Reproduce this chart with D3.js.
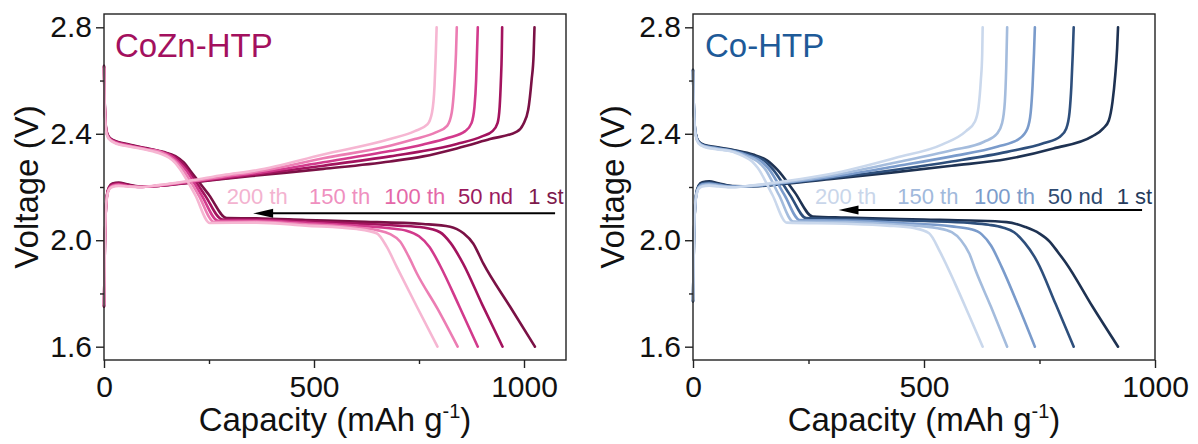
<!DOCTYPE html>
<html><head><meta charset="utf-8">
<script src="https://cdn.jsdelivr.net/npm/d3@7"></script>
<style>body{margin:0;background:#fff}svg{display:block}text{font-family:"Liberation Sans",Arial,sans-serif}</style>
</head><body><svg id="c" width="1198" height="444"></svg>
<script>
// ---------- DATA ----------
const cycleLabels = ["1 st", "50 nd", "100 th", "150 th", "200 th"];
const yMajorTicks = [1.6, 2.0, 2.4, 2.8];
const yMinorTicks = [1.8, 2.2, 2.6];
const xMajorTicks = [0, 500, 1000];
const xMinorTicks = [250, 750];

// CoZn-HTP discharge (capacity mAh/g, voltage V)
const coznDis1st = [[0,2.655],[1,2.56],[3,2.46],[6,2.41],[12,2.388],[25,2.374],[60,2.36],[100,2.346],[140,2.332],[170,2.316],[190,2.292],[205,2.262],[250,2.17],[292,2.083],[363,2.082],[480,2.076],[602,2.07],[760,2.061],[824,2.051],[856,2.026],[879,1.988],[903,1.913],[967,1.75],[1026,1.6]];
const coznDis50 = [[0,2.652],[1,2.56],[3,2.46],[6,2.408],[12,2.386],[25,2.372],[60,2.358],[100,2.345],[140,2.331],[168,2.314],[185,2.292],[200,2.263],[240,2.17],[282,2.078],[363,2.078],[480,2.071],[602,2.063],[700,2.055],[760,2.048],[800,2.03],[825,1.99],[855,1.912],[900,1.76],[949,1.6]];
const coznDis100 = [[0,2.65],[1,2.555],[3,2.455],[6,2.405],[12,2.384],[25,2.37],[60,2.356],[100,2.343],[140,2.33],[165,2.312],[180,2.29],[195,2.264],[232,2.17],[272,2.073],[363,2.074],[480,2.066],[602,2.055],[680,2.045],[720,2.036],[750,2.015],[775,1.975],[800,1.905],[845,1.755],[890,1.6]];
const coznDis150 = [[0,2.648],[1,2.55],[3,2.45],[6,2.403],[12,2.382],[25,2.368],[60,2.354],[100,2.342],[140,2.328],[160,2.31],[175,2.29],[188,2.265],[225,2.17],[262,2.069],[363,2.07],[480,2.06],[602,2.048],[650,2.038],[680,2.024],[705,1.995],[725,1.94],[745,1.875],[795,1.74],[842,1.6]];
const coznDis200 = [[0,2.645],[1,2.55],[3,2.45],[6,2.4],[12,2.38],[25,2.366],[60,2.352],[100,2.34],[135,2.325],[155,2.31],[170,2.29],[182,2.265],[217,2.17],[252,2.065],[363,2.066],[480,2.055],[602,2.042],[649,2.026],[673,1.976],[697,1.9],[745,1.75],[794,1.6]];

// CoZn-HTP charge
const coznChg1st = [[0,1.75],[1,1.86],[2,1.98],[4,2.1],[7,2.17],[12,2.2],[20,2.213],[35,2.217],[55,2.21],[85,2.202],[130,2.204],[205,2.216],[284,2.23],[363,2.243],[522,2.268],[681,2.296],[760,2.315],[840,2.345],[919,2.38],[983,2.408],[998,2.435],[1010,2.49],[1018,2.6],[1023,2.7],[1025,2.8]];
const coznChg50 = [[0,1.752],[1,1.86],[2,1.98],[4,2.1],[7,2.168],[12,2.198],[20,2.21],[35,2.214],[55,2.208],[85,2.201],[130,2.204],[205,2.217],[284,2.232],[363,2.247],[522,2.28],[681,2.315],[760,2.335],[840,2.362],[900,2.39],[925,2.41],[937,2.44],[942,2.5],[945,2.6],[947,2.7],[948,2.8]];
const coznChg100 = [[0,1.755],[1,1.86],[2,1.98],[4,2.1],[7,2.165],[12,2.195],[20,2.206],[35,2.21],[55,2.205],[85,2.2],[130,2.205],[205,2.219],[284,2.236],[363,2.252],[522,2.293],[681,2.335],[760,2.36],[820,2.385],[860,2.41],[875,2.44],[882,2.5],[886,2.6],[888,2.7],[890,2.8]];
const coznChg150 = [[0,1.757],[1,1.86],[2,1.98],[4,2.1],[7,2.162],[12,2.192],[20,2.203],[35,2.207],[55,2.203],[85,2.2],[130,2.206],[205,2.221],[284,2.24],[363,2.257],[522,2.308],[681,2.355],[740,2.38],[790,2.405],[817,2.43],[828,2.48],[834,2.58],[838,2.7],[840,2.8]];
const coznChg200 = [[0,1.76],[1,1.86],[2,1.98],[4,2.1],[7,2.16],[12,2.19],[20,2.2],[35,2.204],[55,2.202],[85,2.2],[130,2.207],[205,2.224],[284,2.245],[363,2.263],[522,2.322],[681,2.38],[740,2.41],[770,2.435],[781,2.48],[787,2.58],[790,2.7],[792,2.8]];

// Co-HTP discharge
const coDis1st = [[0,2.64],[1,2.55],[3,2.45],[6,2.4],[12,2.372],[25,2.358],[50,2.35],[90,2.338],[130,2.322],[160,2.3],[183,2.264],[220,2.18],[259,2.089],[330,2.085],[500,2.078],[600,2.074],[679,2.068],[719,2.05],[750,2.025],[772,1.995],[790,1.955],[808,1.913],[865,1.75],[920,1.6]];
const coDis50 = [[0,2.638],[1,2.55],[3,2.45],[6,2.398],[12,2.37],[25,2.356],[50,2.348],[90,2.336],[125,2.32],[155,2.298],[173,2.266],[210,2.17],[245,2.083],[330,2.08],[500,2.072],[600,2.065],[640,2.058],[670,2.048],[695,2.03],[718,1.99],[745,1.92],[785,1.76],[824,1.6]];
const coDis100 = [[0,2.636],[1,2.55],[3,2.45],[6,2.396],[12,2.368],[25,2.354],[50,2.346],[90,2.334],[120,2.318],[148,2.296],[164,2.268],[198,2.17],[231,2.076],[330,2.074],[450,2.065],[560,2.052],[600,2.042],[625,2.022],[645,1.98],[668,1.9],[705,1.75],[740,1.6]];
const coDis150 = [[0,2.634],[1,2.55],[3,2.45],[6,2.394],[12,2.366],[25,2.352],[50,2.344],[90,2.332],[115,2.316],[140,2.296],[155,2.27],[186,2.17],[217,2.07],[330,2.068],[450,2.058],[530,2.045],[560,2.03],[580,2.0],[598,1.95],[612,1.885],[645,1.75],[680,1.6]];
const coDis200 = [[0,2.632],[1,2.55],[3,2.45],[6,2.392],[12,2.364],[25,2.35],[50,2.342],[90,2.33],[110,2.315],[128,2.296],[140,2.272],[172,2.17],[203,2.066],[330,2.062],[420,2.055],[480,2.045],[511,2.026],[535,1.955],[567,1.838],[597,1.72],[627,1.6]];

// Co-HTP charge
const coChg1st = [[0,1.77],[1,1.88],[2,2.0],[4,2.11],[7,2.175],[12,2.205],[20,2.218],[35,2.221],[55,2.214],[85,2.204],[130,2.203],[200,2.212],[300,2.23],[439,2.256],[560,2.28],[680,2.305],[780,2.345],[864,2.39],[888,2.42],[900,2.45],[908,2.52],[914,2.62],[918,2.72],[920,2.8]];
const coChg50 = [[0,1.772],[1,1.88],[2,2.0],[4,2.11],[7,2.172],[12,2.202],[20,2.214],[35,2.217],[55,2.211],[85,2.203],[130,2.203],[200,2.214],[300,2.234],[439,2.265],[560,2.296],[680,2.332],[760,2.365],[795,2.39],[808,2.42],[815,2.48],[819,2.58],[822,2.7],[824,2.8]];
const coChg100 = [[0,1.774],[1,1.88],[2,2.0],[4,2.11],[7,2.17],[12,2.199],[20,2.21],[35,2.213],[55,2.208],[85,2.202],[130,2.204],[200,2.216],[300,2.238],[439,2.278],[560,2.315],[660,2.352],[705,2.38],[724,2.42],[731,2.48],[735,2.58],[738,2.7],[740,2.8]];
const coChg150 = [[0,1.776],[1,1.88],[2,2.0],[4,2.11],[7,2.168],[12,2.196],[20,2.206],[35,2.209],[55,2.205],[85,2.2],[130,2.205],[200,2.218],[300,2.243],[439,2.292],[560,2.338],[630,2.37],[658,2.4],[669,2.44],[675,2.52],[678,2.65],[680,2.8]];
const coChg200 = [[0,1.778],[1,1.88],[2,2.0],[4,2.11],[7,2.165],[12,2.193],[20,2.202],[35,2.205],[55,2.202],[85,2.199],[130,2.206],[200,2.222],[300,2.25],[439,2.31],[540,2.36],[591,2.41],[610,2.445],[618,2.5],[623,2.6],[626,2.7],[627,2.8]];

// ---------- STYLE ----------
const coznLine = ["#7a1145", "#a3135e", "#d23a8c", "#ec7db3", "#f6b6d2"];
const coznText = ["#7d1a4b", "#9a1a5e", "#e468a8", "#ef90bf", "#f3b3d0"];
const coLine = ["#1e3252", "#2e4f7c", "#7a9bcb", "#a4bcdd", "#cad8ec"];
const coText = ["#263b5c", "#2f4b72", "#7c9ccb", "#a1b9dc", "#c9d6ea"];

const svg = d3.select("#c");
const FONT = '"Liberation Sans", Arial, sans-serif';

function panel(cfg) {
  const x = d3.scaleLinear().domain(cfg.xDomain).range(cfg.xRange);
  const y = d3.scaleLinear().domain([1.55, 2.85]).range([360, 14]);
  const g = svg.append("g");

  // curves (darkest first, lightest on top)
  const line = d3.line().x(d => x(d[0])).y(d => y(d[1])).curve(d3.curveMonotoneX);
  for (let i = 0; i < 5; i++) {
    [cfg.dis[i], cfg.chg[i]].forEach(arr => {
      g.append("path").attr("d", line(arr)).attr("fill", "none")
        .attr("stroke", cfg.lineColors[i]).attr("stroke-width", 2.6)
        .attr("stroke-linejoin", "round").attr("stroke-linecap", "round");
    });
  }

  // frame
  g.append("rect").attr("x", x.range()[0]).attr("y", 14)
    .attr("width", x.range()[1] - x.range()[0]).attr("height", 346)
    .attr("fill", "none").attr("stroke", "#222").attr("stroke-width", 1.4);

  // y axis
  const ya = g.append("g").attr("transform", `translate(${x.range()[0]},0)`)
    .call(d3.axisLeft(y).tickValues(yMajorTicks).tickSize(8).tickPadding(4).tickFormat(d3.format(".1f")));
  const ym = g.append("g").attr("transform", `translate(${x.range()[0]},0)`)
    .call(d3.axisLeft(y).tickValues(yMinorTicks).tickSize(4).tickFormat(""));
  // x axis
  const xa = g.append("g").attr("transform", "translate(0,360)")
    .call(d3.axisBottom(x).tickValues(xMajorTicks).tickSize(8).tickPadding(8).tickFormat(d3.format("d")));
  const xm = g.append("g").attr("transform", "translate(0,360)")
    .call(d3.axisBottom(x).tickValues(xMinorTicks).tickSize(4).tickFormat(""));
  [ya, ym, xa, xm].forEach(a => {
    a.select(".domain").remove();
    a.selectAll("line").attr("stroke", "#222").attr("stroke-width", 1.4);
    a.selectAll("text").attr("font-size", 30).attr("font-family", FONT).attr("fill", "#111");
  });

  // panel title
  g.append("text").attr("x", cfg.titleX).attr("y", 57).attr("font-size", 33)
    .attr("fill", cfg.titleColor).text(cfg.title);

  // cycle labels
  cfg.labelCaps.forEach((c, i) => {
    g.append("text").attr("x", x(c)).attr("y", 204).attr("font-size", 22)
      .attr("fill", cfg.textColors[4 - i]).text(cycleLabels[4 - i]);
  });

  // arrow
  const ay = y(cfg.arrowV);
  const x0 = x(cfg.arrowFrom), x1 = x(cfg.arrowTo);
  g.append("line").attr("x1", x0).attr("x2", x1 + 12).attr("y1", ay).attr("y2", ay)
    .attr("stroke", "#000").attr("stroke-width", 2);
  g.append("path").attr("d", `M${x1},${ay} L${x1 + 20},${ay - 4.5} L${x1 + 20},${ay + 4.5} Z`).attr("fill", "#000");

  // axis titles
  g.append("text").attr("transform", `translate(${cfg.yTitleX},187) rotate(-90)`)
    .attr("text-anchor", "middle").attr("font-size", 33).attr("fill", "#111").text("Voltage (V)");
  const t = g.append("text").attr("x", (x.range()[0] + x.range()[1]) / 2).attr("y", 431)
    .attr("text-anchor", "middle").attr("font-size", 33).attr("fill", "#111");
  t.append("tspan").text("Capacity (mAh g");
  t.append("tspan").attr("font-size", 20).attr("dy", -13).text("-1");
  t.append("tspan").attr("dy", 13).text(")");
}

panel({
  xDomain: [0, 1100], xRange: [104, 566],
  dis: [coznDis1st, coznDis50, coznDis100, coznDis150, coznDis200],
  chg: [coznChg1st, coznChg50, coznChg100, coznChg150, coznChg200],
  lineColors: coznLine, textColors: coznText,
  title: "CoZn-HTP", titleX: 115, titleColor: "#a3105e",
  labelCaps: [292, 488, 667, 843, 1010],
  arrowV: 2.101, arrowFrom: 1074, arrowTo: 355,
  yTitleX: 38
});
panel({
  xDomain: [0, 1000], xRange: [693, 1155],
  dis: [coDis1st, coDis50, coDis100, coDis150, coDis200],
  chg: [coChg1st, coChg50, coChg100, coChg150, coChg200],
  lineColors: coLine, textColors: coText,
  title: "Co-HTP", titleX: 705, titleColor: "#1e5a98",
  labelCaps: [264, 442, 608, 768, 917],
  arrowV: 2.114, arrowFrom: 972, arrowTo: 315,
  yTitleX: 624
});
</script></body></html>
